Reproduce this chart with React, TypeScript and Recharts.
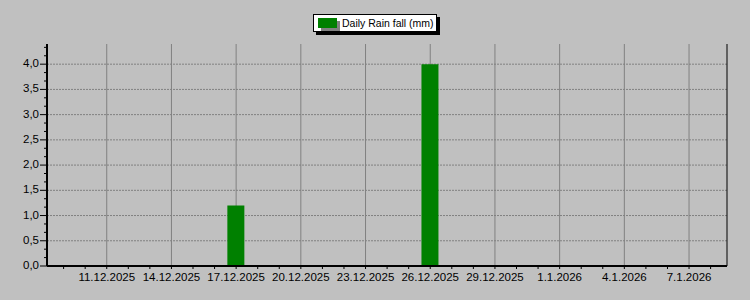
import React from 'react';
import { ComposedChart, Bar, XAxis, YAxis, CartesianGrid, Legend } from 'recharts';

// ---- data ----
const rainDates = [
  '9.12.2025', '10.12.2025', '11.12.2025', '12.12.2025', '13.12.2025', '14.12.2025',
  '15.12.2025', '16.12.2025', '17.12.2025', '18.12.2025', '19.12.2025', '20.12.2025',
  '21.12.2025', '22.12.2025', '23.12.2025', '24.12.2025', '25.12.2025', '26.12.2025',
  '27.12.2025', '28.12.2025', '29.12.2025', '30.12.2025', '31.12.2025', '1.1.2026',
  '2.1.2026', '3.1.2026', '4.1.2026', '5.1.2026', '6.1.2026', '7.1.2026', '8.1.2026',
];
const rainValues = [
  0, 0, 0, 0, 0, 0,
  0, 0, 1.2, 0, 0, 0,
  0, 0, 0, 0, 0, 4.0,
  0, 0, 0, 0, 0, 0,
  0, 0, 0, 0, 0, 0, 0,
];
const xTickLabels = [
  '11.12.2025', '14.12.2025', '17.12.2025', '20.12.2025', '23.12.2025',
  '26.12.2025', '29.12.2025', '1.1.2026', '4.1.2026', '7.1.2026',
];
const yTickLabels = ['0,0', '0,5', '1,0', '1,5', '2,0', '2,5', '3,0', '3,5', '4,0'];
const seriesName = 'Daily Rain fall (mm)';

// ---- helpers ----
const DAY = 86400000;
const origin = Date.UTC(2025, 11, 11);
const toDay = (s: string) => {
  const [d, m, y] = s.split('.').map(Number);
  return Math.round((Date.UTC(y, m - 1, d) - origin) / DAY);
};
const data = rainDates.map((d, i) => ({ day: toDay(d), rain: rainValues[i] }));
const majorX = xTickLabels.map(toDay);
const labelByDay: Record<number, string> = {};
xTickLabels.forEach((l) => (labelByDay[toDay(l)] = l));
const allXTicks: number[] = [];
for (let d = -2; d <= 28; d++) allXTicks.push(d);
const xDomain = [-2.77, 28.76];

const yMajor = yTickLabels.map((l) => parseFloat(l.replace(',', '.')));
const yTicks: number[] = [];
for (let k = 0; k <= 26; k++) yTicks.push(k / 6);
const yDomain = [0, 4.4];

const FONT = '"Liberation Sans", Arial, sans-serif';

const XTick = (props: any) => {
  const { x, y, payload } = props;
  const v = Math.round(payload.value);
  const label = labelByDay[v];
  return (
    <g>
      <line x1={x} x2={x} y1={y} y2={y + 3} stroke="#000" strokeWidth={1} />
      {label && (
        <text x={x} y={y + 12} textAnchor="middle" dominantBaseline="middle" fontSize={11.5} fill="#000" fontFamily={FONT}>
          {label}
        </text>
      )}
    </g>
  );
};

const YTick = (props: any) => {
  const { x, y, payload } = props;
  const v = payload.value as number;
  const idx = yMajor.findIndex((m) => Math.abs(m - v) < 1e-6);
  const major = idx >= 0;
  return (
    <g>
      <line x1={x - (major ? 7 : 3)} x2={x} y1={y} y2={y} stroke="#000" strokeWidth={1} />
      {major && (
        <text x={x - 8} y={y} textAnchor="end" dominantBaseline="middle" fontSize={11.5} fill="#000" fontFamily={FONT}>
          {yTickLabels[idx]}
        </text>
      )}
    </g>
  );
};

const LegendBox = () => (
  <div style={{ position: 'relative', width: 124, height: 18 }}>
    <div style={{ position: 'absolute', left: 3, top: 3, width: 124, height: 18, background: '#000' }} />
    <div
      style={{
        position: 'absolute', left: 0, top: 0, width: 122, height: 16, background: '#fff',
        border: '1px solid #000', overflow: 'hidden',
      }}
    >
      <div style={{ position: 'absolute', left: 7, top: 6, width: 19, height: 10, background: '#808080' }} />
      <div style={{ position: 'absolute', left: 4, top: 3, width: 19, height: 10, background: '#008000' }} />
      <div
        style={{
          position: 'absolute', left: 28, top: 1, whiteSpace: 'nowrap', fontSize: 10.5,
          fontFamily: FONT, color: '#000', lineHeight: '14px',
        }}
      >
        {seriesName}
      </div>
    </div>
  </div>
);

export default function App() {
  return (
    <div style={{ position: 'fixed', left: 0, top: 0, width: 750, height: 300, background: '#c0c0c0' }}>
      <ComposedChart width={750} height={300} data={data} margin={{ top: 44, right: 0, bottom: 0, left: 0 }}>
        <CartesianGrid
          horizontal={true}
          vertical={false}
          horizontalValues={yMajor.filter((v) => v > 0)}
          stroke="#808080"
          strokeDasharray="2 1"
        />
        <CartesianGrid horizontal={false} vertical={true} verticalValues={majorX} stroke="#808080" strokeWidth={1} />
        <XAxis
          dataKey="day"
          type="number"
          domain={xDomain}
          ticks={allXTicks}
          interval={0}
          allowDataOverflow
          height={34}
          tickSize={0}
          tickMargin={0}
          tickLine={false}
          tick={<XTick />}
          axisLine={{ stroke: '#000', strokeWidth: 2 }}
        />
        <XAxis
          xAxisId="top"
          orientation="top"
          dataKey="day"
          type="number"
          domain={xDomain}
          allowDataOverflow
          height={0}
          tick={false}
          tickLine={false}
          axisLine={{ stroke: '#000', strokeWidth: 1 }}
        />
        <YAxis
          type="number"
          domain={yDomain}
          ticks={yTicks}
          interval={0}
          allowDataOverflow
          width={47}
          tickSize={0}
          tickMargin={0}
          tickLine={false}
          tick={<YTick />}
          axisLine={{ stroke: '#000', strokeWidth: 2 }}
        />
        <YAxis
          yAxisId="right"
          orientation="right"
          type="number"
          domain={yDomain}
          width={23}
          tick={false}
          tickLine={false}
          axisLine={{ stroke: '#000', strokeWidth: 1 }}
        />
        <Legend
          layout="vertical"
          align="center"
          verticalAlign="middle"
          content={<LegendBox />}
          wrapperStyle={{ left: 313, top: 14, width: 130, height: 22 }}
        />
        <Bar dataKey="rain" name={seriesName} fill="#008000" barSize={17} isAnimationActive={false} />
      </ComposedChart>
    </div>
  );
}
